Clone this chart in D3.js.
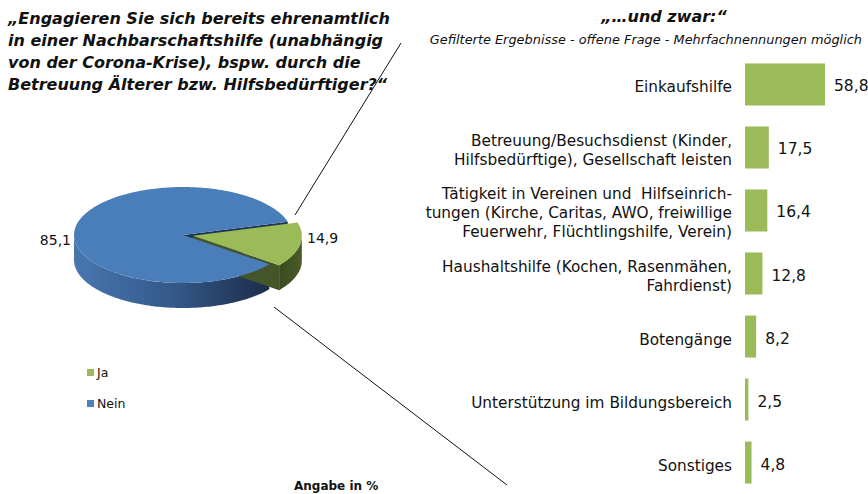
<!DOCTYPE html>
<html><head><meta charset="utf-8">
<script src="https://cdn.jsdelivr.net/npm/d3@7"></script>
<style>
html,body{margin:0;padding:0;background:#fff;}
svg{display:block;font-family:"DejaVu Sans",Verdana,sans-serif;}
.cat{white-space:pre;}
</style></head>
<body>
<svg id="chart" width="868" height="494"></svg>
<script>
// ---- data ----
const titleLines = ["„Engagieren Sie sich bereits ehrenamtlich","in einer Nachbarschaftshilfe (unabhängig","von der Corona-Krise), bspw. durch die","Betreuung Älterer bzw. Hilfsbedürftiger?“"];
const pieLabels = ["Ja","Nein"];
const pieValues = [14.9, 85.1];
const pieValueText = ["14,9","85,1"];
const barTitle = "„…und zwar:“";
const barSubtitle = "Gefilterte Ergebnisse - offene Frage - Mehrfachnennungen möglich";
const barCategories = [
  ["Einkaufshilfe"],
  ["Betreuung/Besuchsdienst (Kinder,","Hilfsbedürftige), Gesellschaft leisten"],
  ["Tätigkeit in Vereinen und  Hilfseinrich-","tungen (Kirche, Caritas, AWO, freiwillige","Feuerwehr, Flüchtlingshilfe, Verein)"],
  ["Haushaltshilfe (Kochen, Rasenmähen,","Fahrdienst)"],
  ["Botengänge"],
  ["Unterstützung im Bildungsbereich"],
  ["Sonstiges"]
];
const barValues = [58.8, 17.5, 16.4, 12.8, 8.2, 2.5, 4.8];
const barValueText = ["58,8","17,5","16,4","12,8","8,2","2,5","4,8"];
const footnote = "Angabe in %";

// ---- setup ----
const svg = d3.select("#chart");
const defs = svg.append("defs");
const gradB = defs.append("linearGradient").attr("id","blueSide").attr("x1","0").attr("x2","1").attr("y1","0").attr("y2","0");
gradB.append("stop").attr("offset","0").attr("stop-color","#4877b0");
gradB.append("stop").attr("offset","0.5").attr("stop-color","#34598a");
gradB.append("stop").attr("offset","1").attr("stop-color","#1b2d48");
const gradG = defs.append("linearGradient").attr("id","greenSide").attr("x1","0").attr("x2","1").attr("y1","0").attr("y2","0");
gradG.append("stop").attr("offset","0").attr("stop-color","#3a4a1e");
gradG.append("stop").attr("offset","1").attr("stop-color","#4a5c28");

// ---- title ----
svg.append("text").attr("x",8).attr("y",24)
  .attr("font-size",16).attr("font-weight","bold").attr("font-style","italic").attr("fill","#111")
  .selectAll("tspan").data(titleLines).join("tspan")
  .attr("x",8).attr("dy",(d,i)=>i===0?0:21.9).text(d=>d);

// ---- connector lines ----
const conn = [[[295,215],[401,43]],[[274,307],[507,485]]];
svg.append("g").selectAll("line").data(conn).join("line")
  .attr("x1",d=>d[0][0]).attr("y1",d=>d[0][1]).attr("x2",d=>d[1][0]).attr("y2",d=>d[1][1])
  .attr("stroke","#111").attr("stroke-width",1);

// ---- 3D pie ----
const cx = 183, cy = 235, rx = 109, ry = 48, depth = 25;
const explode = 10;
const toRad = Math.PI/180;
const pie = d3.pie().sort(null).startAngle(74*toRad).endAngle((74+360)*toRad);
const arcs = pie(pieValues);
const par = a => a - Math.PI/2;
const pt = (c,t,dz=0) => [c[0]+rx*Math.cos(t), c[1]+ry*Math.sin(t)+dz];
const line = d3.line();
function ellArc(c,t0,t1,dz){ const n=Math.max(2,Math.ceil(Math.abs(t1-t0)/0.02)); return d3.range(n+1).map(i=>pt(c,t0+(t1-t0)*i/n,dz)); }
function topPath(c,t0,t1){ return line([c].concat(ellArc(c,t0,t1,0))) + "Z"; }
function sidePath(c,t0,t1){ const a=Math.max(t0,0), b=Math.min(t1,Math.PI); if(b<=a) return null;
  const top=ellArc(c,a,b,0), bot=ellArc(c,b,a,depth); return line(top.concat(bot))+"Z"; }
function radialPath(c,t){ const p=pt(c,t); return line([c,p,[p[0],p[1]+depth],[c[0],c[1]+depth]])+"Z"; }

const slices = arcs.map((a,i)=>{
  const t0=par(a.startAngle), t1=par(a.endAngle), tm=(t0+t1)/2;
  const c = i===0 ? [cx+explode*Math.cos(tm), cy+explode*ry/rx*Math.sin(tm)] : [cx,cy];
  return {i,t0,t1,c};
});
const gJa = slices[0], gNein = slices[1];
const gp = svg.append("g");
gp.append("path").attr("d",sidePath(gNein.c,gNein.t0,gNein.t1)).attr("fill","url(#blueSide)");
gp.append("path").attr("d",sidePath(gJa.c,gJa.t0,gJa.t1)).attr("fill","url(#greenSide)");
gp.append("path").attr("d",radialPath(gNein.c,gNein.t1)).attr("fill","#1e3453");
gp.append("path").attr("d",radialPath(gJa.c,gJa.t1)).attr("fill","#44552a");
gp.append("path").attr("d",topPath(gNein.c,gNein.t0,gNein.t1)).attr("fill","#4a7ebb");
gp.append("path").attr("d",topPath(gJa.c,gJa.t0,gJa.t1)).attr("fill","#9bbb59");

// pie labels
svg.append("text").attr("x",71).attr("y",245).attr("text-anchor","end").attr("font-size",14).attr("fill","#111").text(pieValueText[1]);
svg.append("text").attr("x",307).attr("y",243).attr("font-size",14).attr("fill","#111").text(pieValueText[0]);

// legend
const pieColors = ["#9bbb59","#4f81bd"];
const leg = svg.append("g").selectAll("g").data(pieLabels).join("g")
  .attr("transform",(d,i)=>`translate(87,${369+i*31})`);
leg.append("rect").attr("width",7).attr("height",7).attr("fill",(d,i)=>pieColors[i]);
leg.append("text").attr("x",10).attr("y",8).attr("font-size",12.5).attr("fill","#111").text(d=>d);

// footnote
svg.append("text").attr("x",294).attr("y",490).attr("font-size",12).attr("font-weight","bold").attr("fill","#111").text(footnote);

// ---- bar chart ----
svg.append("text").attr("x",664).attr("y",22).attr("text-anchor","middle")
  .attr("font-size",16).attr("font-weight","bold").attr("font-style","italic").attr("fill","#111").text(barTitle);
svg.append("text").attr("x",862).attr("y",44).attr("text-anchor","end")
  .attr("font-size",12.9).attr("font-style","italic").attr("fill","#111").text(barSubtitle);

const y = d3.scaleBand().domain(d3.range(barValues.length)).range([53,494]).paddingInner(0.333).paddingOuter(0.166);
const x = d3.scaleLinear().domain([0,58.8]).range([745,825]);
const gb = svg.append("g");
gb.selectAll("rect").data(barValues).join("rect")
  .attr("x",x(0)).attr("y",(d,i)=>y(i)).attr("width",d=>x(d)-x(0)).attr("height",y.bandwidth())
  .attr("fill","#9bbb59");
gb.selectAll("text.val").data(barValues).join("text").attr("class","val")
  .attr("x",d=>x(d)+9).attr("y",(d,i)=>y(i)+y.bandwidth()/2+7)
  .attr("font-size",15.5).attr("fill","#111").text((d,i)=>barValueText[i]);
const lh = 19;
gb.selectAll("text.cat").data(barCategories).join("text").attr("class","cat")
  .attr("text-anchor","end").attr("font-size",15.3).attr("fill","#111")
  .attr("y",(d,i)=>y(i)+y.bandwidth()/2+8-(d.length-1)*lh/2)
  .selectAll("tspan").data(d=>d).join("tspan")
  .attr("x",732).attr("dy",(d,i)=>i===0?0:lh).text(d=>d);
</script>
</body></html>
